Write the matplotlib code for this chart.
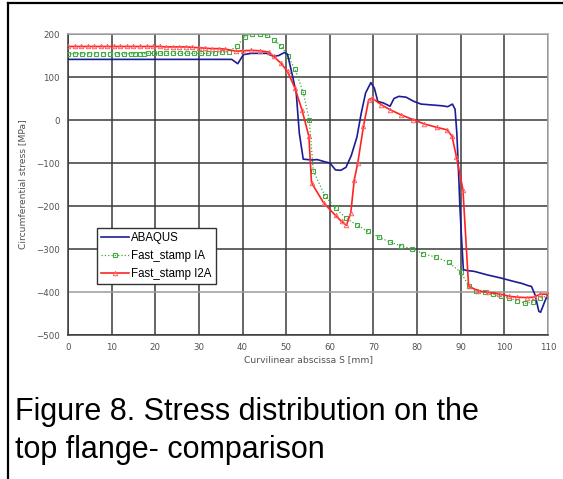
"""
Stress distribution on the top flange - ABAQUS vs Fast_stamp comparison.
"""
import matplotlib
matplotlib.use('Agg')
import matplotlib.pyplot as plt
from matplotlib.lines import Line2D

# ABAQUS reference solution
abaqus_s = [0, 10, 20, 30, 37.5, 38.9, 40.2, 42, 45.5, 47.1, 48.3, 49.6, 50.3, 51.3, 52.3, 53,
            53.9, 55.9, 57.1, 58.8, 60, 61.3, 62.5, 63.7, 64.9, 66.2, 67.2, 68.2, 69.4, 70.2, 71,
            72.2, 73.8, 74.7, 75.8, 77.5, 79.1, 80.9, 83.4, 85.8, 87, 88.1, 88.7, 89.1, 89.6, 89.8,
            90.2, 90.6, 91.4, 93.1, 96, 99, 102, 104, 105.4, 106.2, 107, 107.9, 108.3, 109.1, 109.9]
abaqus_stress = [141, 141, 141, 141, 141, 131, 152, 155, 155, 148, 150, 157, 153, 109, 63, -30,
                 -91, -93, -92, -97, -100, -116, -117, -110, -83, -40, 16, 63, 87, 74, 43,
                 40, 32, 50, 55, 53, 44, 37, 35, 33, 31, 37, 25, -30, -147, -201,
                 -278, -348, -350, -352, -360, -367, -375, -380, -385, -387, -406, -445, -447, -426, -406]

# Fast_stamp IA
ia_s = [0, 1.6, 3.2, 4.8, 6.4, 8.0, 9.6, 11.2, 12.8, 14.4, 15.4, 16.4, 17.4, 18.4, 19.6, 21.0,
        22.4, 24.0, 25.6, 27.2, 28.8, 30.4, 32.0, 33.6, 35.2, 36.8, 38.7, 40.6, 42.2, 43.9, 45.5,
        47.1, 48.8, 50.4, 52.0, 53.9, 55.3, 56.2, 58.9, 61.3, 63.7, 66.3, 68.7, 71.2, 73.8, 76.4,
        78.9, 81.4, 84.3, 87.2, 90.0, 91.8, 93.6, 95.5, 97.4, 99.2, 101.1, 102.9, 104.8, 106.6,
        108.2, 109.9]
ia_stress = [154, 154, 154, 154, 154, 154, 154, 154, 154, 154, 154, 154, 154, 155, 155, 155,
             155, 155, 155, 155, 155, 155, 155, 156, 157, 158, 173, 194, 200, 200, 198,
             187, 173, 148, 119, 64, 0, -118, -177, -205, -228, -245, -259, -272, -284, -293,
             -300, -311, -319, -331, -354, -385, -397, -400, -405, -410, -414, -420, -426, -423,
             -414, -409]

# Fast_stamp I2A
i2a_s = [0, 1.5, 3, 4.5, 6, 7.5, 9, 10.5, 12, 13.5, 15, 16.5, 18, 19.5, 21, 22.5, 24, 25.5,
         27, 28.5, 30, 31.5, 33, 34.5, 36, 38.5, 40, 42, 44, 46, 47.1, 48.8, 50.3, 52, 53.6,
         55.2, 55.8, 58.6, 61.3, 62.7, 63.8, 64.8, 65.6, 66.4, 67.7, 68.9, 69.7, 71.7, 73.8,
         76.3, 79.1, 81.6, 84.5, 86.9, 88, 89, 90.5, 91.8, 94, 96.2, 98.7, 101.1, 103, 105.1,
         106.7, 108.2, 109.9]
i2a_stress = [171, 171, 171, 171, 171, 171, 171, 171, 171, 171, 171, 171, 171, 171, 171, 170, 170, 170,
              170, 169, 168, 167, 166, 166, 165, 160, 161, 162, 161, 158, 148, 132, 113, 74, 24,
              -38, -146, -193, -222, -236, -245, -216, -139, -100, -15, 47, 51, 36, 24,
              12, 1, -9, -17, -23, -38, -85, -162, -387, -397, -401, -404, -410, -412, -413,
              -412, -405, -405]

x_ticks = list(range(0, 111, 10))
y_ticks = list(range(-500, 201, 100))


def main():
    fig = plt.figure(figsize=(5.63, 4.79), dpi=100)
    ax = fig.add_axes([0.1208, 0.3006, 0.8526, 0.6284])

    ax.plot(abaqus_s, abaqus_stress, color='#1c1c96', lw=1.2, label='ABAQUS', zorder=4)
    ax.plot(ia_s, ia_stress, color='#3aa83a', lw=0.9, ls=':', marker='s', ms=3.2,
            mfc='none', mec='#44aa44', mew=0.8, label='Fast_stamp IA', zorder=3)
    ax.plot(i2a_s, i2a_stress, color='#ff2222', lw=1.2, marker='^', ms=3.2,
            mfc='none', mec='#ff6060', mew=0.7, label='Fast_stamp I2A', zorder=5)

    ax.set_xlim(0, 110)
    ax.set_ylim(-500, 200)
    ax.set_xticks(x_ticks)
    ax.set_yticks(y_ticks)
    ax.grid(True, color='#3a3a3a', lw=1.1)
    ax.set_axisbelow(True)
    ax.get_ygridlines()[1].set_color('#9a9a9a')
    ax.tick_params(length=0, labelsize=6.2, labelcolor='#505050', pad=6)
    for side in ['left', 'bottom']:
        ax.spines[side].set_color('#3a3a3a')
        ax.spines[side].set_linewidth(1.1)
    for side in ['top', 'right']:
        ax.spines[side].set_color('#a8a8a8')
        ax.spines[side].set_linewidth(1.1)

    ax.set_xlabel('Curvilinear abscissa S [mm]', fontsize=6.6, color='#505050', labelpad=2)
    ax.set_ylabel('Circumferential stress [MPa]', fontsize=6.6, color='#505050', labelpad=6)

    leg = ax.legend(loc='upper left', bbox_to_anchor=(0.06, 0.355), borderaxespad=0,
                    fancybox=False, framealpha=1, edgecolor='#333333',
                    prop={'family': 'Liberation Sans', 'size': 8.3},
                    handlelength=2.4, handletextpad=0.25, labelspacing=0.5, borderpad=0.35)
    leg.get_frame().set_linewidth(1.0)

    # caption
    fig.text(0.026, 1 - 420 / 479, 'Figure 8. Stress distribution on the', fontsize=22,
             family='Liberation Sans', va='baseline', ha='left')
    fig.text(0.026, 1 - 458 / 479, 'top flange- comparison', fontsize=22,
             family='Liberation Sans', va='baseline', ha='left')

    # page frame (left and top edges)
    fig.add_artist(Line2D([8 / 563, 8 / 563], [0, 1 - 3 / 479], transform=fig.transFigure,
                          color='black', lw=1.6))
    fig.add_artist(Line2D([8 / 563, 1], [1 - 3 / 479, 1 - 3 / 479], transform=fig.transFigure,
                          color='black', lw=1.6))

    plt.savefig('out.png', dpi=100)
    plt.close()


if __name__ == "__main__":
    main()
